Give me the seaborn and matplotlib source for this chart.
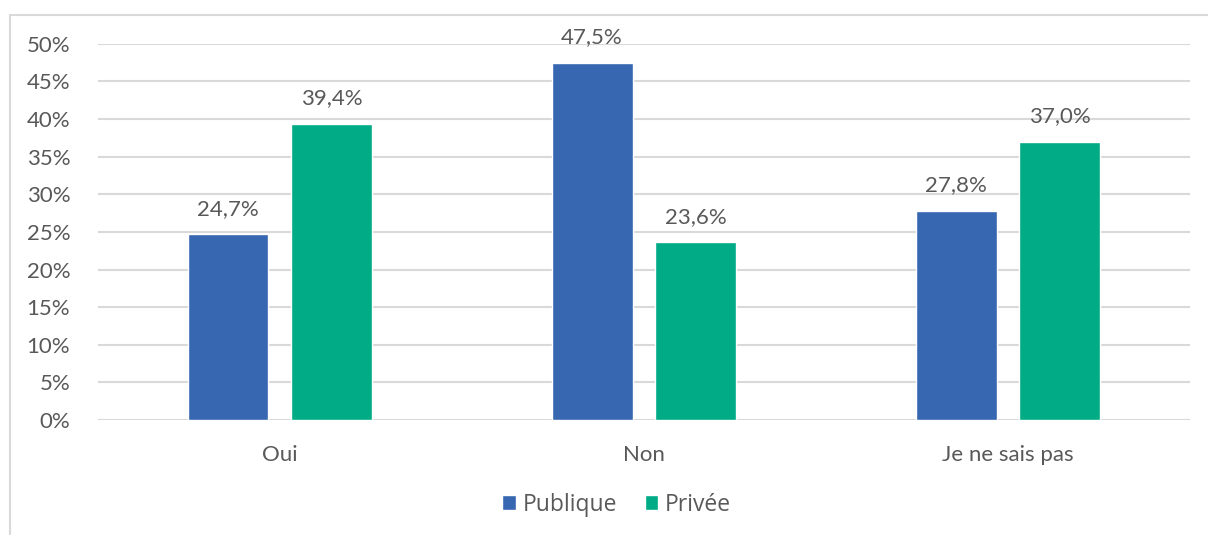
import matplotlib.pyplot as plt
import seaborn as sns
import pandas as pd
from matplotlib.lines import Line2D

categories = ['Oui', 'Non', 'Je ne sais pas']
publique = [24.7, 47.5, 27.8]
privee = [39.4, 23.6, 37.0]
series = ['Publique', 'Privée']
colors = ['#3867b1', '#00ab86']
yticks = [0, 5, 10, 15, 20, 25, 30, 35, 40, 45, 50]

df = pd.DataFrame({
    'cat': categories * 2,
    'serie': [series[0]] * 3 + [series[1]] * 3,
    'val': publique + privee,
})

sns.set_style('white')
plt.rcParams['font.family'] = ['Lato', 'DejaVu Sans']
grey = '#595959'

fig = plt.figure(figsize=(12.08, 5.35), dpi=100)
ax = fig.add_axes([0.0811, 0.215, 0.904, 0.703])
sns.barplot(data=df, x='cat', y='val', hue='serie', palette=colors,
            width=0.571, gap=0.221, ax=ax, legend=True, saturation=1)

ax.set_ylim(0, 50)
ax.set_yticks(yticks)
ax.set_yticklabels([f'{t}%' for t in yticks], color=grey, fontsize=16)
ax.tick_params(axis='x', colors=grey, labelsize=16, pad=18, length=0)
ax.tick_params(axis='y', length=0, pad=20)
ax.set_xlabel('')
ax.set_ylabel('')
ax.yaxis.grid(True, color='#d9d9d9', linewidth=1.5)
ax.set_axisbelow(True)
for s in ax.spines.values():
    s.set_visible(False)

for cont in ax.containers:
    for bar in cont:
        h = bar.get_height()
        ax.annotate(f'{h:.1f}%'.replace('.', ','),
                    (bar.get_x() + bar.get_width() / 2, h),
                    xytext=(0, 11), textcoords='offset points',
                    ha='center', va='bottom', color=grey, fontsize=16)

ax.legend(loc='center', bbox_to_anchor=(0.475, -0.225), ncol=2, frameon=False,
          labelcolor=grey, handlelength=0.6, handleheight=0.6,
          handletextpad=0.3, columnspacing=1.2,
          prop={'family': ['Open Sans', 'DejaVu Sans'], 'size': 16.5})

fig.add_artist(Line2D([10 / 1208, 10 / 1208], [0, 1 - 15 / 535],
                      color='#d9d9d9', linewidth=1.5))
fig.add_artist(Line2D([10 / 1208, 1], [1 - 15 / 535, 1 - 15 / 535],
                      color='#d9d9d9', linewidth=1.5))

fig.savefig('out.png', dpi=100)
